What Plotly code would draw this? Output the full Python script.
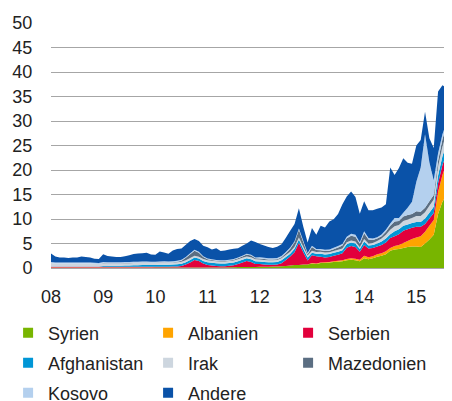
import plotly.graph_objects as go

# Asylerstanträge in Tsd. pro Monat, Jan 2008 - Sep 2015
months = list(range(93))
year_ticks = [0, 12, 24, 36, 48, 60, 72, 84]
year_labels = ["08", "09", "10", "11", "12", "13", "14", "15"]

syrien = [0.06] * 12 + [0.07] * 12 + [0.1] * 12 + [
    0.1, 0.1, 0.1, 0.1, 0.1, 0.15, 0.15, 0.2, 0.2, 0.2, 0.2, 0.2,
    0.2, 0.2, 0.25, 0.3, 0.3, 0.35, 0.4, 0.5, 0.6, 0.6, 0.7, 0.7,
    0.9, 0.8, 1.0, 1.0, 1.1, 1.2, 1.3, 1.4, 1.6, 1.7, 1.6, 1.4,
    2.0, 1.8, 2.0, 2.3, 2.5, 2.8, 3.5, 3.8, 3.9, 4.1, 4.3, 4.4,
    4.4, 4.3, 5.0, 5.8, 6.8, 11.0, 13.5, 15.0, 16.3]
albanien = [0.02] * 48 + [0.03] * 12 + [
    0.1, 0.1, 0.1, 0.15, 0.15, 0.2, 0.2, 0.2, 0.25, 0.3, 0.3, 0.3,
    0.5, 0.4, 0.4, 0.5, 0.5, 0.6, 0.6, 0.7, 0.8, 1.0, 1.2, 1.5,
    1.8, 2.2, 2.4, 2.8, 3.0, 4.5, 5.5, 6.5, 7.0]
serbien = [0.15] * 24 + [
    0.15, 0.15, 0.15, 0.15, 0.2, 0.2, 0.3, 0.6, 1.0, 1.5, 1.3, 0.8,
    0.5, 0.4, 0.3, 0.25, 0.25, 0.3, 0.4, 0.6, 0.9, 1.2, 1.0, 0.6,
    0.6, 0.5, 0.4, 0.35, 0.4, 0.6, 1.2, 1.8, 2.6, 4.5, 2.5, 0.8,
    1.6, 1.5, 1.2, 1.0, 1.0, 1.1, 1.2, 1.4, 2.3, 2.5, 2.4, 1.6,
    2.2, 1.8, 1.7, 1.6, 1.7, 1.8, 2.0, 2.0, 2.2, 2.5, 2.4, 2.3,
    2.2, 1.9, 1.6, 1.5, 1.4, 1.8, 2.0, 2.0, 1.8]
afghanistan = [0.08] * 12 + [
    0.15, 0.15, 0.2, 0.2, 0.2, 0.25, 0.25, 0.3, 0.3, 0.35, 0.35, 0.35,
    0.35, 0.4, 0.4, 0.4, 0.4, 0.45, 0.45, 0.45, 0.5, 0.5, 0.5, 0.5] + [0.55] * 12 + [
    0.5, 0.5, 0.5, 0.5, 0.5, 0.6, 0.6, 0.6, 0.7, 0.7, 0.7, 0.6,
    0.5, 0.5, 0.6, 0.6, 0.6, 0.6, 0.6, 0.6, 0.7, 0.7, 0.7, 0.6,
    0.7, 0.6, 0.6, 0.6, 0.7, 0.8, 0.8, 1.0, 1.0, 1.0, 1.0, 1.0,
    1.0, 1.0, 1.1, 1.2, 1.3, 1.6, 1.8, 2.0, 2.2]
irak = [
    0.7, 0.6, 0.6, 0.6, 0.6, 0.6, 0.6, 0.6, 0.6, 0.6, 0.55, 0.5,
    0.6, 0.55, 0.5, 0.5, 0.5, 0.5, 0.5, 0.5, 0.5, 0.5, 0.5, 0.45,
    0.45, 0.45, 0.45, 0.4, 0.4, 0.4, 0.4, 0.4, 0.4, 0.4, 0.4, 0.4] + [0.4] * 24 + [
    0.4, 0.35, 0.4, 0.4, 0.35, 0.35, 0.4, 0.4, 0.4, 0.4, 0.4, 0.35,
    0.5, 0.4, 0.4, 0.5, 0.6, 0.8, 0.9, 1.0, 0.9, 1.0, 1.0, 1.0,
    1.2, 1.2, 1.3, 1.4, 1.5, 1.8, 2.0, 2.2, 2.5]
mazedonien = [0.03] * 24 + [
    0.03, 0.03, 0.05, 0.05, 0.05, 0.1, 0.2, 0.5, 0.8, 1.0, 0.8, 0.4,
    0.2, 0.15, 0.1, 0.1, 0.1, 0.1, 0.15, 0.2, 0.3, 0.4, 0.4, 0.2,
    0.2, 0.2, 0.15, 0.15, 0.15, 0.2, 0.4, 0.6, 0.9, 1.6, 1.0, 0.3,
    0.8, 0.4, 0.3, 0.3, 0.3, 0.4, 0.5, 0.6, 0.8, 1.0, 1.0, 0.7,
    1.2, 0.8, 0.6, 0.5, 0.5, 0.6, 0.8, 1.0, 0.8, 0.9, 0.9, 0.8,
    1.0, 0.9, 0.9, 0.9, 0.9, 1.2, 1.5, 1.5, 1.6]
kosovo = [0.2] * 36 + [0.15] * 12 + [0.25] * 12 + [
    0.25, 0.25, 0.3, 0.3, 0.3, 0.3, 0.3, 0.3, 0.35, 0.4, 0.4, 0.3,
    0.4, 0.3, 0.3, 0.3, 0.35, 0.4, 0.5, 0.7, 0.6, 0.8, 1.5, 2.5,
    6.0, 9.0, 15.0, 8.0, 3.0, 1.5, 1.0, 0.6, 0.5]
andere = [
    1.7, 1.2, 1.0, 1.0, 0.9, 1.0, 1.0, 1.2, 1.1, 1.0, 0.8, 0.8,
    1.6, 1.3, 1.2, 1.1, 1.1, 1.2, 1.4, 1.6, 1.7, 1.7, 1.8, 1.5,
    1.4, 2.0, 1.8, 1.6, 2.2, 2.4, 2.3, 2.5, 2.5, 2.2, 2.2, 2.1,
    2.3, 2.0, 2.4, 1.9, 2.0, 2.1, 2.1, 1.9, 2.0, 2.1, 2.9, 3.2,
    2.7, 2.5, 2.3, 2.1, 2.3, 2.4, 2.9, 3.4, 3.5, 4.1, 2.9, 2.1,
    3.6, 2.9, 4.7, 4.5, 5.7, 5.8, 6.5, 8.1, 8.2, 8.6, 7.7, 5.8,
    6.1, 5.7, 5.8, 5.8, 5.5, 5.2, 11.4, 8.8, 10.2, 11.1, 9.2, 7.8,
    7.4, 5.6, 4.6, 4.9, 6.6, 12.6, 10.0, 6.9, 9.6]

series = [
    ("Syrien", syrien, "#78b500"),
    ("Albanien", albanien, "#ffa400"),
    ("Serbien", serbien, "#e2003c"),
    ("Afghanistan", afghanistan, "#0096d6"),
    ("Irak", irak, "#cdd6df"),
    ("Mazedonien", mazedonien, "#5b6e82"),
    ("Kosovo", kosovo, "#b4d0ee"),
    ("Andere", andere, "#0a52a8"),
]
legend_rows = ["legend", "legend", "legend", "legend2", "legend2", "legend2", "legend3", "legend3"]

fig = go.Figure()
for name, vals, col in series:
    fig.add_trace(go.Scatter(x=months, y=vals, stackgroup="one", mode="none",
                             fillcolor=col, name=name, showlegend=False, hoverinfo="skip"))
for (name, vals, col), lg in zip(series, legend_rows):
    fig.add_trace(go.Scatter(x=[None], y=[None], mode="markers", name=name, legend=lg,
                             marker=dict(symbol="square", size=10, color=col)))

font = dict(family="Arial, Liberation Sans", size=18, color="#222222")
leg = dict(orientation="h", xanchor="left", yanchor="middle", x=-0.107,
           traceorder="normal", entrywidth=95, entrywidthmode="pixels", itemwidth=30,
           font=font, bgcolor="rgba(0,0,0,0)")

# page body has an 8px margin, so the figure is 8px smaller than the window
fig.update_layout(
    width=444, height=393,
    margin=dict(l=43, r=0, t=15, b=133, autoexpand=False),
    paper_bgcolor="white", plot_bgcolor="white",
    font=font,
    xaxis=dict(range=[0, 92.2], tickvals=year_ticks, ticktext=year_labels,
               showgrid=False, zeroline=False, showline=True, linecolor="#a6a6a6",
               ticks="outside", ticklen=12, tickcolor="rgba(0,0,0,0)"),
    yaxis=dict(range=[0, 50], dtick=5, showgrid=True, gridcolor="#a6a6a6", gridwidth=1,
               zeroline=False, ticks="outside", ticklen=14, tickcolor="rgba(0,0,0,0)"),
    legend={**leg, "y": -0.265},
    legend2={**leg, "y": -0.388},
    legend3={**leg, "y": -0.510},
)

fig.write_html("out.html")
